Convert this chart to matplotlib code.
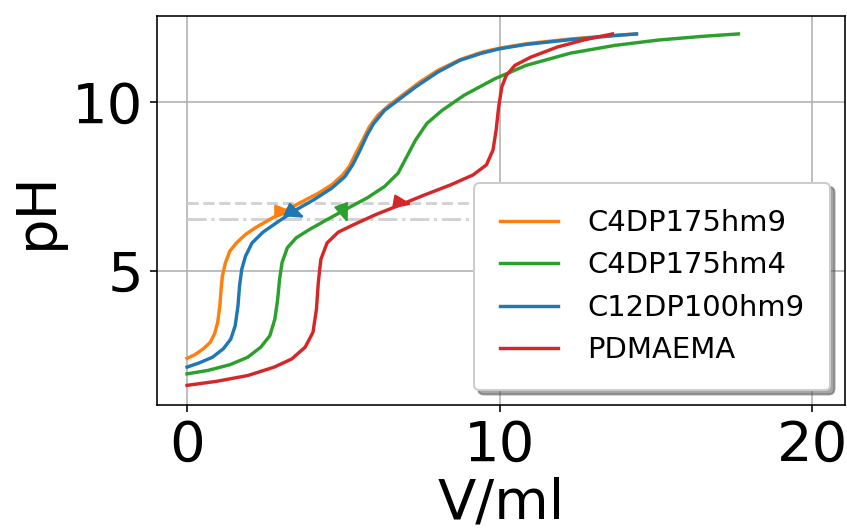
import numpy as np
import matplotlib
matplotlib.use("Agg")
from matplotlib import pyplot as plt

# titration data (V in ml, pH)
v_c4hm9 = [0, 0.24, 0.52, 0.74, 0.88, 0.98, 1.05, 1.09, 1.13, 1.23, 1.37, 1.58, 1.87, 2.22,
           2.64, 3.07, 3.64, 4.20, 4.63, 4.98, 5.19, 5.40, 5.62, 5.83, 6.11, 6.46, 6.89,
           7.45, 8.02, 8.73, 9.43, 10.0, 10.85, 12.26, 13.68, 14.38]
ph_c4hm9 = [2.42, 2.52, 2.70, 2.89, 3.14, 3.48, 3.97, 4.46, 4.85, 5.25, 5.59, 5.83, 6.08, 6.30,
            6.52, 6.75, 7.03, 7.30, 7.55, 7.84, 8.09, 8.48, 8.87, 9.26, 9.61, 9.90, 10.20,
            10.59, 10.93, 11.25, 11.47, 11.59, 11.72, 11.86, 11.97, 12.01]

v_c4hm4 = [0, 0.66, 1.37, 1.94, 2.36, 2.65, 2.81, 2.90, 2.96, 3.04, 3.21, 3.49, 3.92, 4.48,
           5.05, 5.76, 6.32, 6.75, 7.03, 7.31, 7.67, 8.16, 8.87, 9.86, 10.85, 12.26, 13.68,
           15.09, 16.51, 17.64]
ph_c4hm4 = [1.96, 2.06, 2.23, 2.45, 2.75, 3.09, 3.58, 4.17, 4.75, 5.25, 5.69, 5.98, 6.23, 6.52,
            6.81, 7.16, 7.50, 7.89, 8.38, 8.87, 9.36, 9.75, 10.20, 10.69, 11.08, 11.44, 11.67,
            11.83, 11.94, 12.01]

v_c12hm9 = [0, 0.38, 0.81, 1.16, 1.40, 1.54, 1.63, 1.68, 1.75, 1.87, 2.08, 2.43, 2.93, 3.49,
            4.06, 4.63, 5.05, 5.30, 5.54, 5.76, 5.97, 6.32, 6.75, 7.31, 8.02, 8.73, 9.43,
            10.0, 10.85, 12.26, 13.68, 14.38]
ph_c12hm9 = [2.16, 2.28, 2.45, 2.70, 2.99, 3.38, 3.97, 4.56, 5.05, 5.44, 5.83, 6.15, 6.47, 6.81,
             7.11, 7.45, 7.79, 8.14, 8.58, 9.02, 9.36, 9.75, 10.05, 10.44, 10.88, 11.23, 11.44,
             11.57, 11.70, 11.84, 11.96, 12.01]

v_pdmaema = [0, 0.95, 1.94, 2.79, 3.35, 3.78, 4.03, 4.14, 4.20, 4.28, 4.48, 4.84, 5.33, 6.04,
             6.75, 7.60, 8.44, 9.15, 9.58, 9.79, 9.89, 9.97, 10.07, 10.21, 10.49, 10.99, 11.84,
             12.69, 13.61]
ph_pdmaema = [1.62, 1.74, 1.91, 2.16, 2.40, 2.75, 3.19, 3.87, 4.66, 5.34, 5.83, 6.15, 6.37, 6.67,
              6.93, 7.25, 7.55, 7.84, 8.14, 8.58, 9.17, 9.85, 10.44, 10.78, 11.08, 11.32, 11.62,
              11.83, 12.01]

# half-neutralisation points (arrowhead markers)
mark_v = [3.0, 5.0, 3.4, 6.8]
mark_ph = [6.78, 6.78, 6.75, 7.05]
mark_dir = [0, -70, -25, -10]   # pointing direction, degrees

labels = ["C4DP175hm9", "C4DP175hm4", "C12DP100hm9", "PDMAEMA"]
colors = ["tab:orange", "tab:green", "tab:blue", "tab:red"]

head = np.array([(1, 0), (-0.7, 0.65), (-0.7, -0.65), (1, 0)])


def arrow_marker(deg):
    a = np.deg2rad(deg)
    rot = np.array([[np.cos(a), -np.sin(a)], [np.sin(a), np.cos(a)]])
    return head @ rot.T


fig = plt.figure(figsize=(847 / 144, 528 / 144), dpi=144)
ax = fig.add_axes([0.1854, 0.233, 0.8122, 0.7367])

ax.hlines(7.0, 0, 20, colors="lightgray", linestyles="--", lw=1.5)
ax.hlines(6.55, 0, 20, colors="lightgray", linestyles="-.", lw=1.5)

series = [(v_c4hm9, ph_c4hm9), (v_c4hm4, ph_c4hm4), (v_c12hm9, ph_c12hm9), (v_pdmaema, ph_pdmaema)]
for i, (v, ph) in enumerate(series):
    ax.plot(v, ph, color=colors[i], lw=1.7, label=labels[i])
for i in range(4):
    ax.plot(mark_v[i], mark_ph[i], marker=arrow_marker(mark_dir[i]), color=colors[i],
            markersize=9, ls="none")

ax.set_xlim(-0.96, 21.05)
ax.set_ylim(1.04, 12.54)
ax.set_xticks([0, 10, 20])
ax.set_yticks([5, 10])
ax.tick_params(labelsize=28)
ax.grid(True)
ax.set_xlabel("V/ml", fontsize=28, labelpad=2)
ax.set_ylabel("pH", fontsize=28)
ax.legend(loc="lower right", fontsize=14.5, shadow=True, borderpad=0.9, handletextpad=1.0)

fig.savefig("out.png", dpi=144)
